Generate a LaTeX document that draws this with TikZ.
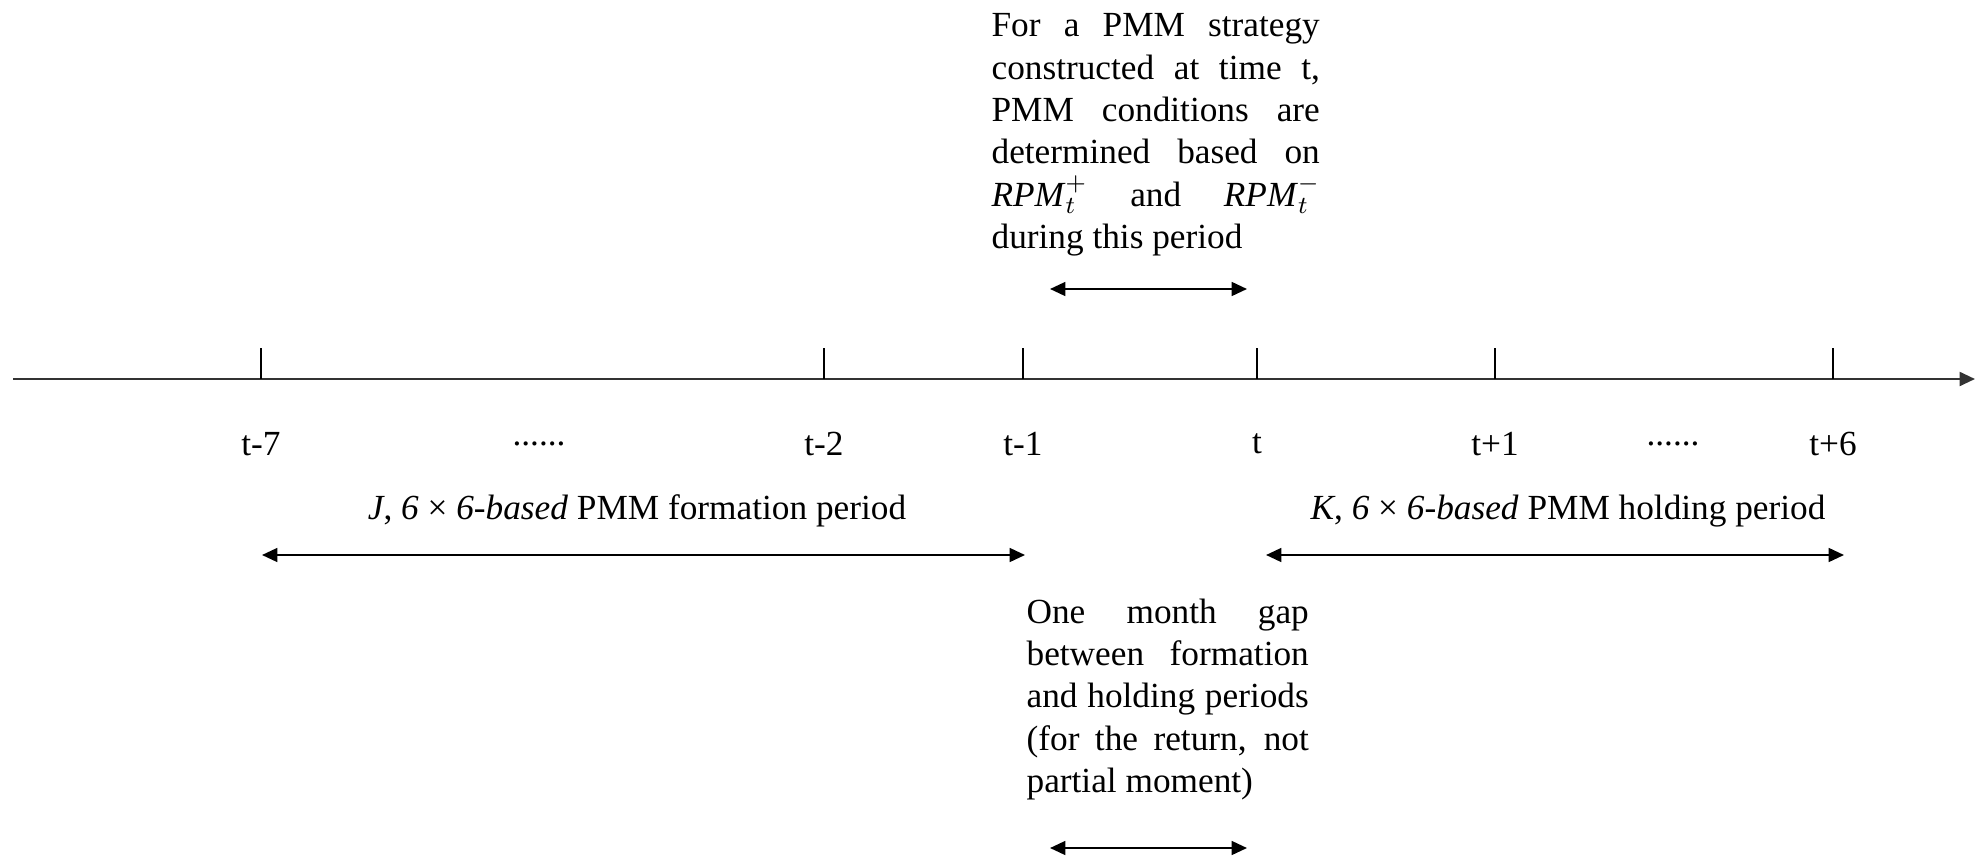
\documentclass[tikz,border=0pt]{standalone}
\usepackage{fontspec}
\setmainfont{Liberation Serif}
\usetikzlibrary{arrows.meta}
% one justified line of a note
\newcommand{\jline}[2]{\makebox[#1][s]{#2}}

\begin{document}
\begin{tikzpicture}[x=0.326pt,y=-0.326pt,
    period/.style={{Triangle[length=5pt,width=4.5pt]}-{Triangle[length=5pt,width=4.5pt]},line width=0.7pt},
    lbl/.style={font=\fontsize{11.5}{13.8}\selectfont,inner sep=0pt},
    note/.style={lbl,align=left,anchor=north west}]
    \useasboundingbox (0,0) rectangle (1979,859);
    % time axis
    \coordinate (start) at (13,379);
    \coordinate (end) at (1975,379);
    \draw[line width=0.8pt,black!80,-{Triangle[length=5pt,width=4.5pt]}] (start) -- (end);
    \foreach \name/\x/\txt in {m7/261/t-7, m2/824/t-2, m1/1023/t-1, t0/1257/t, p1/1495/t+1, p6/1833/t+6} {
        \coordinate (\name) at (\x,379);
        \draw[line width=0.6pt] (\name) -- ++(0,-31);
        \node[lbl] (l\name) at (\x,444) {\txt};
    }
    \node[lbl] (dotsl) at (539,444) {......};
    \node[lbl] (dotsr) at (1673,444) {......};
    % formation and holding periods
    \node[lbl] (form) at (637,511) {\textit{J}, \textit{6} × \textit{6-based} PMM formation period};
    \node[lbl] (hold) at (1568,511) {\textit{K}, \textit{6} × \textit{6-based} PMM holding period};
    \coordinate (fa) at (262,555);
    \coordinate (fb) at (1025,555);
    \coordinate (ha) at (1266,555);
    \coordinate (hb) at (1844,555);
    \draw[period] (fa) -- (fb);
    \draw[period] (ha) -- (hb);
    % notes
    \node[note] (cond) at (991,13) {\jline{107pt}{For a PMM strategy}\\
        \jline{107pt}{constructed at time t,}\\
        \jline{107pt}{PMM conditions are}\\
        \jline{107pt}{determined based on}\\
        \jline{107pt}{\textit{RPM}$_t^+$ and \textit{RPM}$_t^-$}\\
        during this period};
    \coordinate (ca) at (1050,289);
    \coordinate (cb) at (1247,289);
    \draw[period] (ca) -- (cb);
    \node[note] (gap) at (1026,598) {\jline{92pt}{One month gap}\\
        \jline{92pt}{between formation}\\
        \jline{92pt}{and holding periods}\\
        \jline{92pt}{(for the return, not}\\
        partial moment)};
    \coordinate (ga) at (1050,848);
    \coordinate (gb) at (1247,848);
    \draw[period] (ga) -- (gb);
\end{tikzpicture}
\end{document}
